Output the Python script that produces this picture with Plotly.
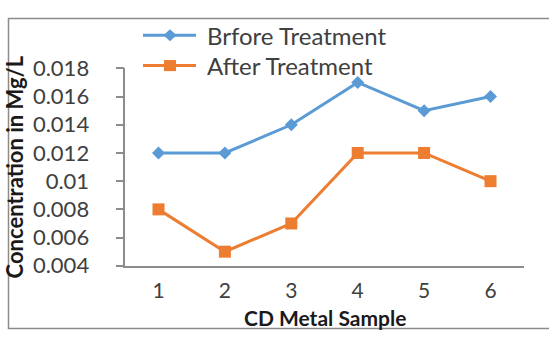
import plotly.graph_objects as go

samples = ["1", "2", "3", "4", "5", "6"]
before = [0.012, 0.012, 0.014, 0.017, 0.015, 0.016]
after = [0.008, 0.005, 0.007, 0.012, 0.012, 0.010]
series_names = ["Brfore Treatment", "After Treatment"]
y_ticks = [0.004, 0.006, 0.008, 0.01, 0.012, 0.014, 0.016, 0.018]
y_tick_text = ["0.004", "0.006", "0.008", "0.01", "0.012", "0.014", "0.016", "0.018"]

BLUE = "#5B9BD5"
ORANGE = "#ED7D31"
FONT = "Lato"
TXT = "#404040"
GRAY = "#8C8C8C"

W, H = 549, 343
ML, MR, MT, MB = 0, 0, 0, 0
PW, PH = W - ML - MR, H - MT - MB

def px_x(p):
    return (p - ML) / PW

def px_y(p):
    return (H - MB - p) / PH

fig = go.Figure()
fig.add_trace(go.Scatter(x=samples, y=before, mode="lines+markers", name=series_names[0],
                         line=dict(color=BLUE, width=3),
                         marker=dict(symbol="diamond", size=10, color=BLUE), cliponaxis=False))
fig.add_trace(go.Scatter(x=samples, y=after, mode="lines+markers", name=series_names[1],
                         line=dict(color=ORANGE, width=3),
                         marker=dict(symbol="square", size=12, color=ORANGE), cliponaxis=False))

# hand-drawn legend (decoration, in pixel positions of the figure)
shapes = [dict(type="rect", xref="paper", yref="paper",
               x0=px_x(8.5), x1=px_x(556), y0=px_y(341.5), y1=px_y(5),
               line=dict(color=GRAY, width=1.5), fillcolor="rgba(0,0,0,0)", layer="below")]
annotations = []
leg_rows = [23, 56]
leg_colors = [BLUE, ORANGE]
for name, col, ry, kind in zip(series_names, leg_colors, leg_rows, ["diamond", "square"]):
    shapes.append(dict(type="line", xref="paper", yref="paper",
                       x0=px_x(143), x1=px_x(196), y0=px_y(ry), y1=px_y(ry),
                       line=dict(color=col, width=3)))
    if kind == "diamond":
        path = "M {} {} L {} {} L {} {} L {} {} Z".format(
            px_x(170), px_y(ry - 6.5), px_x(176.5), px_y(ry),
            px_x(170), px_y(ry + 6.5), px_x(163.5), px_y(ry))
        shapes.append(dict(type="path", xref="paper", yref="paper", path=path,
                           fillcolor=col, line=dict(color=col, width=0)))
    else:
        shapes.append(dict(type="rect", xref="paper", yref="paper",
                           x0=px_x(164), x1=px_x(176), y0=px_y(ry + 6), y1=px_y(ry - 6),
                           fillcolor=col, line=dict(color=col, width=0)))
    annotations.append(dict(text=name, xref="paper", yref="paper",
                            x=px_x(205), y=px_y(ry), xanchor="left", yanchor="middle",
                            showarrow=False, font=dict(size=24, color=TXT, family=FONT)))

annotations.append(dict(text="<b>CD Metal Sample</b>", xref="x domain", yref="paper",
                        x=0.5, y=px_y(329), xanchor="center", yanchor="middle",
                        showarrow=False, font=dict(size=21, color="#1a1a1a", family=FONT)))

fig.update_layout(
    width=W, height=H,
    margin=dict(l=ML, r=MR, t=MT, b=MB, pad=0),
    paper_bgcolor="white", plot_bgcolor="white",
    font=dict(family=FONT, color=TXT, size=22),
    showlegend=False,
    xaxis=dict(type="category", range=[-0.5, 5.5], domain=[px_x(125.3), px_x(523.7)],
               showgrid=False, zeroline=False,
               showline=True, linecolor=GRAY, linewidth=1.5,
               ticks="outside", ticklen=5, tickcolor="rgba(0,0,0,0)",
               tickfont=dict(size=21, color=TXT, family=FONT)),
    yaxis=dict(range=[0.004, 0.018], domain=[px_y(273.3), px_y(59)],
               tickvals=y_ticks, ticktext=y_tick_text,
               showgrid=False, zeroline=False,
               showline=True, linecolor=GRAY, linewidth=1.5,
               ticks="outside", ticklen=8, tickcolor=GRAY, tickwidth=1.5,
               ticklabelstandoff=22,
               tickfont=dict(size=22, color=TXT, family=FONT),
               title=dict(text="<b>Concentration in Mg/L</b>", standoff=3,
                          font=dict(size=22, color="#1a1a1a", family=FONT))),
    annotations=annotations,
    shapes=shapes,
)

fig.write_html("out.html", config={"displayModeBar": False},
               post_script="document.body.style.margin='0';document.body.style.overflow='hidden';")
